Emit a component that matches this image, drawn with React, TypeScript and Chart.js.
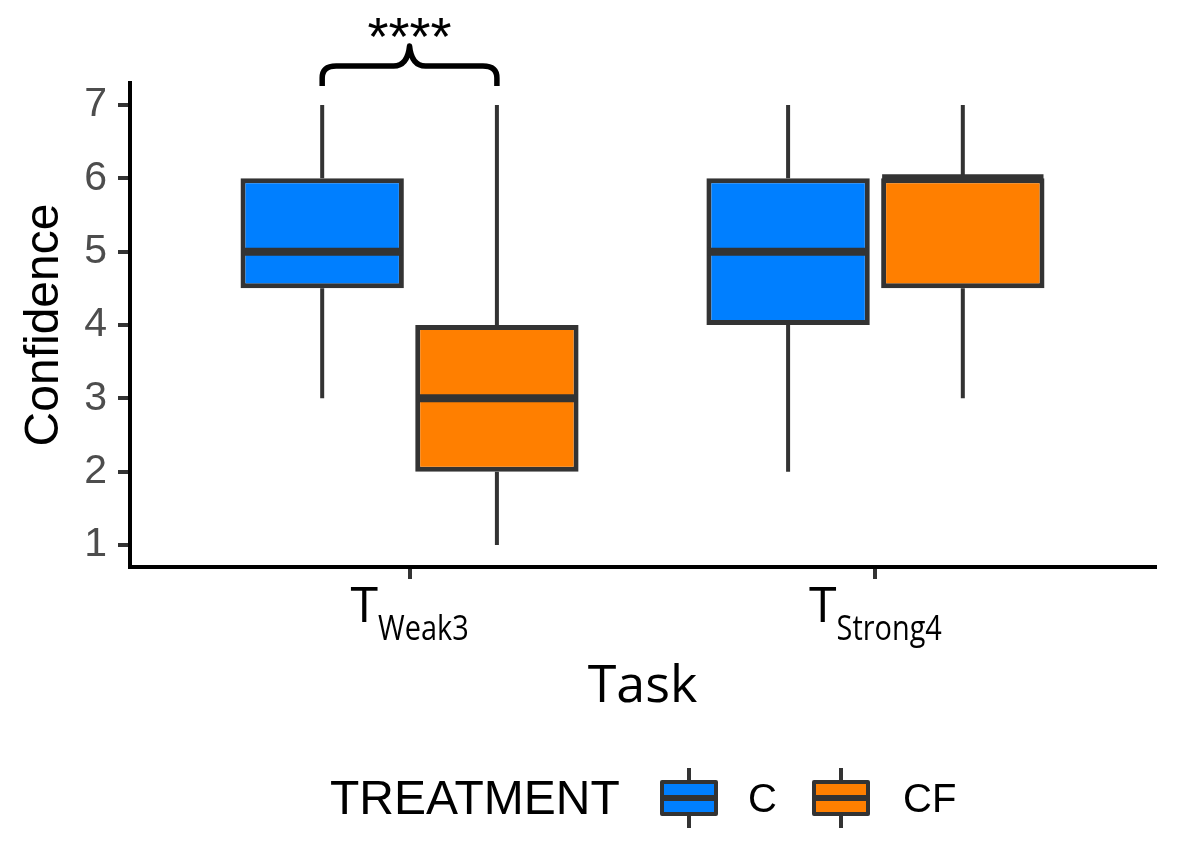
import React, { useEffect, useRef } from 'react';
import { Chart, registerables } from 'chart.js';

Chart.register(...registerables);

// ---------- data ----------
const taskMain = ['T', 'T'];
const taskSub = ['Weak3', 'Strong4'];
const taskPos = [1, 2];
const treatments = ['C', 'CF'];
const treatmentColors = ['#007FFF', '#FF7F00'];
const treatmentOffset = [-0.1875, 0.1875];

const cMin = [3, 2];
const cQ1 = [4.5, 4];
const cMedian = [5, 5];
const cQ3 = [6, 6];
const cMax = [7, 7];

const cfMin = [1, 3];
const cfQ1 = [2, 4.5];
const cfMedian = [3, 6];
const cfQ3 = [4, 6];
const cfMax = [7, 7];

const yTicks = [1, 2, 3, 4, 5, 6, 7];
const sigLabel = '****';
const sigTaskIndex = 0;

const stats = [
  { min: cMin, q1: cQ1, med: cMedian, q3: cQ3, max: cMax },
  { min: cfMin, q1: cfQ1, med: cfMedian, q3: cfQ3, max: cfMax },
];

const EDGE = '#333333';

const boxPlugin = {
  id: 'boxExtras',
  beforeDatasetsDraw(chart: any) {
    const ctx = chart.ctx;
    const xs = chart.scales.x;
    const ys = chart.scales.y;
    ctx.save();
    ctx.strokeStyle = EDGE;
    ctx.lineWidth = 4;
    ctx.lineCap = 'butt';
    stats.forEach((st, s) => {
      taskPos.forEach((p, i) => {
        const x = xs.getPixelForValue(p + treatmentOffset[s]);
        ctx.beginPath();
        ctx.moveTo(x, ys.getPixelForValue(st.max[i]));
        ctx.lineTo(x, ys.getPixelForValue(st.q3[i]));
        ctx.moveTo(x, ys.getPixelForValue(st.q1[i]));
        ctx.lineTo(x, ys.getPixelForValue(st.min[i]));
        ctx.stroke();
      });
    });
    ctx.restore();
  },
  afterDatasetsDraw(chart: any) {
    const ctx = chart.ctx;
    const xs = chart.scales.x;
    const ys = chart.scales.y;
    ctx.save();
    // medians
    ctx.strokeStyle = EDGE;
    ctx.lineWidth = 8;
    ctx.lineCap = 'butt';
    stats.forEach((st, s) => {
      const meta = chart.getDatasetMeta(s);
      taskPos.forEach((p, i) => {
        const el = meta.data[i];
        const w = el.width;
        const x = xs.getPixelForValue(p + treatmentOffset[s]);
        const y = ys.getPixelForValue(st.med[i]);
        ctx.beginPath();
        ctx.moveTo(x - w / 2 + 1, y);
        ctx.lineTo(x + w / 2 - 1, y);
        ctx.stroke();
      });
    });

    // significance brace
    const x1 = xs.getPixelForValue(taskPos[sigTaskIndex] + treatmentOffset[0]);
    const x2 = xs.getPixelForValue(taskPos[sigTaskIndex] + treatmentOffset[1]);
    const mid = (x1 + x2) / 2;
    const yEnd = 86;
    const yBar = 66;
    const yPeak = 46;
    ctx.strokeStyle = '#000';
    ctx.lineWidth = 5.5;
    ctx.lineJoin = 'round';
    ctx.beginPath();
    ctx.moveTo(x1, yEnd);
    ctx.lineTo(x1, yBar + 12);
    ctx.quadraticCurveTo(x1, yBar, x1 + 14, yBar);
    ctx.lineTo(mid - 16, yBar);
    ctx.quadraticCurveTo(mid - 2, yBar, mid, yPeak);
    ctx.quadraticCurveTo(mid + 2, yBar, mid + 16, yBar);
    ctx.lineTo(x2 - 14, yBar);
    ctx.quadraticCurveTo(x2, yBar, x2, yBar + 12);
    ctx.lineTo(x2, yEnd);
    ctx.stroke();

    ctx.fillStyle = '#000';
    ctx.font = '54px "Liberation Sans", Arial, sans-serif';
    ctx.textAlign = 'center';
    ctx.textBaseline = 'alphabetic';
    ctx.fillText(sigLabel, mid, 55);
    ctx.restore();
  },
  afterDraw(chart: any) {
    const ctx = chart.ctx;
    const xs = chart.scales.x;
    ctx.save();
    ctx.fillStyle = '#000';
    ctx.textBaseline = 'alphabetic';
    ctx.textAlign = 'left';
    const mainFont = '50px "Open Sans", sans-serif';
    const subFont = '34px "Open Sans", sans-serif';
    const subScale = 0.85;
    taskPos.forEach((p, i) => {
      const x = xs.getPixelForValue(p);
      ctx.font = mainFont;
      const wm = ctx.measureText(taskMain[i]).width;
      ctx.font = subFont;
      const wsub = ctx.measureText(taskSub[i]).width * subScale;
      const total = wm + wsub;
      const left = x - total / 2;
      ctx.font = mainFont;
      ctx.fillText(taskMain[i], left, 622);
      ctx.save();
      ctx.translate(left + wm, 640);
      ctx.scale(subScale, 1);
      ctx.font = subFont;
      ctx.fillText(taskSub[i], 0, 0);
      ctx.restore();
    });
    ctx.restore();
  },
};

function LegendGlyph({ color, left }: { color: string; left: number }) {
  return (
    <div style={{ position: 'absolute', left, top: 768, width: 58, height: 60 }}>
      <div style={{ position: 'absolute', left: 27, top: 0, width: 4, height: 60, background: EDGE }} />
      <div
        style={{
          position: 'absolute',
          left: 0,
          top: 12,
          width: 58,
          height: 36,
          boxSizing: 'border-box',
          border: `4px solid ${EDGE}`,
          borderRadius: 2,
          background: color,
        }}
      />
      <div style={{ position: 'absolute', left: 2, top: 27, width: 54, height: 6, background: EDGE }} />
    </div>
  );
}

export default function App() {
  const ref = useRef<HTMLCanvasElement | null>(null);

  useEffect(() => {
    if (!ref.current) return;
    const chart = new Chart(ref.current, {
      type: 'bar',
      data: {
        datasets: treatments.map((t, s) => ({
          label: t,
          data: taskPos.map((p, i) => ({ x: p + treatmentOffset[s], y: [stats[s].q1[i], stats[s].q3[i]] })),
          backgroundColor: treatmentColors[s],
          borderColor: EDGE,
          borderWidth: 5,
          borderSkipped: false,
          grouped: false,
          categoryPercentage: 1,
          barPercentage: 0.935,
        })) as any,
      },
      options: {
        responsive: false,
        animation: false,
        devicePixelRatio: 1,
        layout: { padding: { top: 83, right: 24, left: 0, bottom: 0 } },
        plugins: { legend: { display: false }, tooltip: { enabled: false } },
        scales: {
          x: {
            type: 'linear',
            min: 0.4,
            max: 2.6,
            offset: false,
            afterBuildTicks: (s: any) => {
              s.ticks = taskPos.map((v) => ({ value: v }));
            },
            afterFit: (s: any) => {
              s.height = 278;
            },
            ticks: { display: false },
            grid: { offset: false, drawOnChartArea: false, drawTicks: true, tickLength: 12, color: EDGE, lineWidth: 4 },
            border: { display: true, color: '#000', width: 4 },
            title: {
              display: true,
              text: 'Task',
              color: '#000',
              font: { family: '"Open Sans", sans-serif', size: 52 },
              padding: { top: 0, bottom: 127 },
            },
          },
          y: {
            type: 'linear',
            min: 0.7,
            max: 7.3,
            afterBuildTicks: (s: any) => {
              s.ticks = yTicks.map((v) => ({ value: v }));
            },
            afterFit: (s: any) => {
              s.width = 130;
            },
            ticks: {
              color: '#4d4d4d',
              font: { family: '"Liberation Sans", Arial, sans-serif', size: 41 },
              padding: 11,
            },
            grid: { drawOnChartArea: false, drawTicks: true, tickLength: 12, color: EDGE, lineWidth: 4 },
            border: { display: true, color: '#000', width: 4 },
            title: {
              display: true,
              text: 'Confidence',
              color: '#000',
              font: { family: '"Liberation Sans", Arial, sans-serif', size: 48 },
              padding: { top: 16, bottom: 0 },
            },
          },
        },
      } as any,
      plugins: [boxPlugin],
    });
    return () => chart.destroy();
  }, []);

  const legendText: React.CSSProperties = {
    position: 'absolute',
    top: 768,
    height: 60,
    lineHeight: '60px',
    fontFamily: '"Liberation Sans", Arial, sans-serif',
    color: '#000',
    whiteSpace: 'nowrap',
  };

  return (
    <div style={{ position: 'absolute', left: 0, top: 0, width: 1179, height: 845, background: '#fff' }}>
      <canvas ref={ref} width={1179} height={845} style={{ display: 'block' }} />
      <div style={{ ...legendText, left: 330, fontSize: 48 }}>TREATMENT</div>
      <LegendGlyph color={treatmentColors[0]} left={660} />
      <div style={{ ...legendText, left: 748, fontSize: 40 }}>{treatments[0]}</div>
      <LegendGlyph color={treatmentColors[1]} left={812} />
      <div style={{ ...legendText, left: 903, fontSize: 40 }}>{treatments[1]}</div>
    </div>
  );
}
